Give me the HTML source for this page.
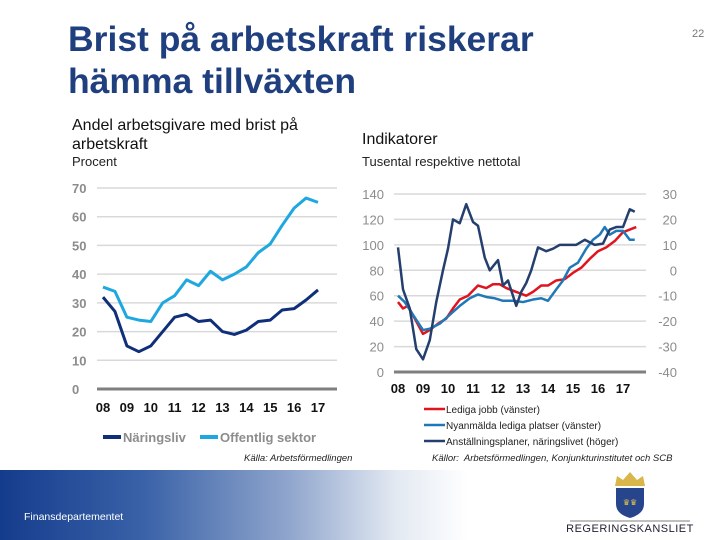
<!DOCTYPE html>
<html><head><meta charset="utf-8"><style>
body{margin:0;width:720px;height:540px;overflow:hidden;background:#fff;font-family:"Liberation Sans",sans-serif;position:relative}
.a{position:absolute;white-space:nowrap}
</style></head><body>
<div class="a" style="left:68px;top:18px;font-size:35.5px;font-weight:bold;color:#1f3f7f;line-height:42px">Brist på arbetskraft riskerar<br>hämma tillväxten</div>
<div class="a" style="left:692px;top:28px;font-size:11px;color:#777">22</div>
<div class="a" style="left:72px;top:116px;font-size:16px;line-height:19px;color:#111">Andel arbetsgivare med brist på<br>arbetskraft</div>
<div class="a" style="left:72px;top:154px;font-size:13px;color:#222">Procent</div>
<div class="a" style="left:362px;top:131px;font-size:16px;color:#111">Indikatorer</div>
<div class="a" style="left:362px;top:154px;font-size:13px;color:#222">Tusental respektive nettotal</div>
<svg id="c" class="a" style="left:0;top:0" width="720" height="470"></svg>
<div class="a" style="left:244px;top:453px;font-size:9.5px;font-style:italic;color:#222">Källa: Arbetsförmedlingen</div>
<div class="a" style="left:432px;top:453px;font-size:9.5px;font-style:italic;color:#222">Källor:&nbsp; Arbetsförmedlingen, Konjunkturinstitutet och SCB</div>
<div class="a" style="left:0;top:470px;width:720px;height:70px;background:linear-gradient(90deg,#143c8c 0%,#3a62a8 20%,#8fa5cc 40%,#e3e9f2 55%,#fff 65%)"></div>
<div class="a" style="left:24px;top:511px;font-size:10.5px;color:#fff">Finansdepartementet</div>
<svg class="a" style="left:560px;top:470px" width="140" height="70">
<path d="M55 16 L85 16 L83 6 L77 10 L70 2 L63 10 L57 6 Z" fill="#d8b64a"/>
<path d="M56 18 H84 V34 Q84 44 70 48 Q56 44 56 34 Z" fill="#27458c"/>
<text x="70" y="35" font-size="8" fill="#e8c64a" text-anchor="middle">♛♛</text>
<line x1="10" y1="51" x2="130" y2="51" stroke="#555" stroke-width="0.8"/>
<text x="70" y="62" font-size="11" fill="#223" text-anchor="middle" font-family="Liberation Sans" letter-spacing="0.5">REGERINGSKANSLIET</text>
</svg>
<script>
// Left chart data (half-years 08H1..17H1)
const leftCats=['08','09','10','11','12','13','14','15','16','17'];
const leftTicks=[0,10,20,30,40,50,60,70];
const naringsliv=[32,27,15,13,15,20,25,26,23.5,24,20,19,20.5,23.5,24,27.5,28,31,34.5];
const offentlig=[35.5,34,25,24,23.5,30,32.5,38,36,41,38,40,42.5,47.5,50.5,57,63,66.5,65];
// Right chart data (time in years)
const rightCats=['08','09','10','11','12','13','14','15','16','17'];
const rightTicksL=[0,20,40,60,80,100,120,140];
const rightTicksR=[-40,-30,-20,-10,0,10,20,30];
const redT=[8,8.2,8.4,8.67,9,9.27,9.6,9.93,10.2,10.47,10.8,11.2,11.53,11.8,12.07,12.33,12.73,13.13,13.4,13.73,14,14.33,14.67,15,15.33,15.67,16,16.33,16.67,17,17.27,17.53];
const redV=[55,50,52,42,30,33,38,42,50,57,60,68,66,69,69,66,63,60,63,68,68,72,73,78,82,89,95,98,103,110,112,114];
const blueT=[8,8.27,8.6,9,9.27,9.67,10.07,10.47,10.87,11.2,11.53,11.87,12.2,12.6,13,13.4,13.73,14,14.33,14.6,14.87,15.2,15.53,15.8,16.07,16.27,16.47,16.73,17,17.27,17.47];
const blueV=[60,55,45,33,34,38,45,52,58,61,59,58,56,56,55,57,58,56,65,72,82,86,97,104,108,114,108,111,111,104,104];
const navyT=[8,8.2,8.47,8.73,9,9.27,9.53,9.8,10,10.2,10.47,10.73,11,11.2,11.47,11.67,12,12.2,12.4,12.73,12.93,13.13,13.33,13.6,13.93,14.2,14.47,14.8,15.13,15.47,15.87,16.2,16.47,16.73,17,17.27,17.47];
const navyL=[98,65,50,18,10,25,55,80,97,120,117,132,118,115,90,80,88,68,72,52,63,70,80,98,95,97,100,100,100,104,100,101,112,114,114,128,126];
const navyR=navyL.map(v=>v/2-40);

const svg=document.getElementById('c');const NS='http://www.w3.org/2000/svg';
function el(t,a,txt){const e=document.createElementNS(NS,t);for(const k in a)e.setAttribute(k,a[k]);if(txt!==undefined)e.textContent=txt;svg.appendChild(e);return e;}
const ly=v=>389-v*(201/70), lx=i=>103+i*(215/18);
leftTicks.forEach(t=>{
 const g=el('line',{x1:97,x2:337,y1:ly(t),y2:ly(t),stroke:t?'#d9d9d9':'#7f7f7f','stroke-width':t?1.5:3});
 
 const l=el('text',{x:72,y:ly(t)+5,'font-size':13,'font-weight':'bold',fill:'#8c8c8c'},t);
 
});
leftCats.forEach((c,i)=>{const l=el('text',{x:lx(i*2),y:412,'font-size':13,'font-weight':'bold',fill:'#111','text-anchor':'middle'},c);
 });
function line(pts,col,w,name){const p=el('polyline',{points:pts.map(q=>q.join(',')).join(' '),fill:'none',stroke:col,'stroke-width':w,'stroke-linejoin':'round'});
 }
line(offentlig.map((v,i)=>[lx(i),ly(v)]),'#1fa8e0',3,'offentlig-sektor-line');
line(naringsliv.map((v,i)=>[lx(i),ly(v)]),'#0f2f7a',3,'naringsliv-line');
[[103,'#0f2f7a','Näringsliv'],[200,'#1fa8e0','Offentlig sektor']].forEach(([x,c,t])=>{
 const a=el('line',{x1:x,x2:x+18,y1:437,y2:437,stroke:c,'stroke-width':4});
 const b=el('text',{x:x+20,y:442,'font-size':13,'font-weight':'bold',fill:'#8c8c8c'},t);});
const ry=v=>372-v*(178/140), rx=t=>398+(t-8)*25;
rightTicksL.forEach((t,i)=>{
 const g=el('line',{x1:394,x2:646,y1:ry(t),y2:ry(t),stroke:t?'#d9d9d9':'#7f7f7f','stroke-width':t?1.5:3});
 
 const l=el('text',{x:384,y:ry(t)+5,'font-size':13,fill:'#8c8c8c','text-anchor':'end'},t);
 
 const r=el('text',{x:677,y:ry(t)+5,'font-size':13,fill:'#8c8c8c','text-anchor':'end'},rightTicksR[i]);
 
});
rightCats.forEach((c,i)=>{const l=el('text',{x:rx(8+i),y:393,'font-size':13,'font-weight':'bold',fill:'#111','text-anchor':'middle'},c);
 });
const ryR=v=>ry((v+40)*2);
line(redT.map((t,i)=>[rx(t),ry(redV[i])]),'#e0141e',2.5,'lediga-jobb-line');
line(blueT.map((t,i)=>[rx(t),ry(blueV[i])]),'#1f78b8',2.5,'nyanmalda-line');
line(navyT.map((t,i)=>[rx(t),ryR(navyR[i])]),'#243f6e',2.5,'anstallningsplaner-line');
[['#e0141e','Lediga jobb (vänster)',409],['#1f78b8','Nyanmälda lediga platser (vänster)',425],['#243f6e','Anställningsplaner, näringslivet (höger)',441]].forEach(([c,t,y])=>{
 const a=el('line',{x1:424,x2:445,y1:y,y2:y,stroke:c,'stroke-width':2.5});
 const b=el('text',{x:446,y:y+4,'font-size':10,fill:'#222'},t);});
</script>
</body></html>
